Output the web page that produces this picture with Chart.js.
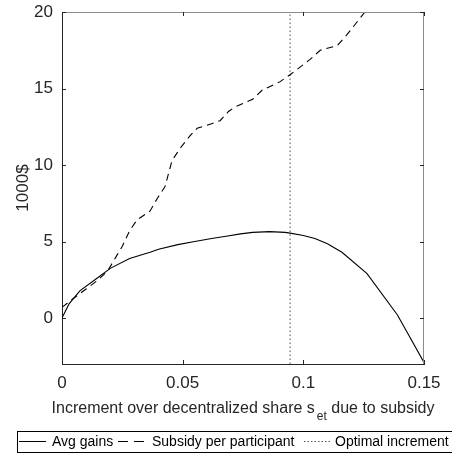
<!DOCTYPE html>
<html>
<head>
<meta charset="utf-8">
<script src="https://cdn.jsdelivr.net/npm/chart.js@4"></script>
<style>
  html, body { margin: 0; padding: 0; background: #fff; }
  #wrap { width: 452px; height: 456px; position: relative; }
</style>
</head>
<body>
<div id="wrap"><canvas id="chart" width="452" height="456"></canvas></div>
<script>
(function () {
  "use strict";

  // series (x = increment, y = 1000$)
  const gainsX = [0, 0.003, 0.0075, 0.0145, 0.02, 0.028, 0.0365, 0.04, 0.048, 0.055, 0.062, 0.068, 0.074, 0.079, 0.086, 0.0925, 0.0945, 0.1, 0.1048, 0.11, 0.116, 0.1264, 0.139, 0.15];
  const gainsY = [0, 0.95, 1.8, 2.6, 3.25, 3.9, 4.3, 4.5, 4.8, 5.0, 5.2, 5.35, 5.5, 5.6, 5.65, 5.6, 5.55, 5.4, 5.2, 4.85, 4.3, 2.9, 0.2, -2.9];

  const subsidyX = [0, 0.004, 0.01, 0.015, 0.019, 0.022, 0.025, 0.028, 0.031, 0.0365, 0.0394, 0.0427, 0.0456, 0.049, 0.053, 0.056, 0.062, 0.0655, 0.069, 0.0717, 0.079, 0.083, 0.0904, 0.0945, 0.1028, 0.107, 0.114, 0.118, 0.1255];
  const subsidyY = [0.7, 1.2, 1.9, 2.5, 3.1, 3.9, 4.7, 5.7, 6.4, 7.0, 7.8, 8.6, 10.3, 11.1, 11.9, 12.4, 12.7, 12.9, 13.5, 13.8, 14.3, 14.9, 15.45, 15.9, 16.9, 17.5, 17.8, 18.5, 20.0];

  const optimalX = [0.0945, 0.0945];
  const optimalY = [-3, 20];

  const xTicks = [0, 0.05, 0.1, 0.15];
  const yTicks = [0, 5, 10, 15, 20];
  const xRange = [0, 0.15];
  const yRange = [-3, 20];

  const seriesLabels = ["Avg gains", "Subsidy per participant", "Optimal increment"];

  const font = "\"Liberation Sans\", Arial, Helvetica, sans-serif";
  const axisColor = "#262626";
  const boxColor = "#8c8c8c";

  const toPoints = (xs, ys) => xs.map((x, i) => ({ x: x, y: ys[i] }));

  // box (top/right), inward tick marks, titles and the boxed legend
  const matlabDecor = {
    id: "matlabDecor",
    afterDraw(chart) {
      const ctx = chart.ctx;
      const a = chart.chartArea;
      const xs = chart.scales.x;
      const ys = chart.scales.y;
      ctx.save();

      ctx.lineWidth = 1;
      ctx.strokeStyle = boxColor;
      ctx.beginPath();
      ctx.moveTo(a.left, a.top + 0.5);
      ctx.lineTo(a.right, a.top + 0.5);
      ctx.moveTo(a.right - 0.5, a.top);
      ctx.lineTo(a.right - 0.5, a.bottom);
      ctx.stroke();

      ctx.strokeStyle = axisColor;
      ctx.beginPath();
      xTicks.forEach(v => {
        const px = Math.round(xs.getPixelForValue(v)) + 0.5;
        ctx.moveTo(px, a.bottom);
        ctx.lineTo(px, a.bottom - 4);
        ctx.moveTo(px, a.top);
        ctx.lineTo(px, a.top + 4);
      });
      yTicks.forEach(v => {
        const py = Math.round(ys.getPixelForValue(v)) + 0.5;
        ctx.moveTo(a.left, py);
        ctx.lineTo(a.left + 4, py);
        ctx.moveTo(a.right, py);
        ctx.lineTo(a.right - 4, py);
      });
      ctx.stroke();

      // y title
      ctx.fillStyle = axisColor;
      ctx.font = "17px " + font;
      ctx.textAlign = "center";
      ctx.textBaseline = "alphabetic";
      ctx.save();
      ctx.translate(28, (a.top + a.bottom) / 2);
      ctx.rotate(-Math.PI / 2);
      ctx.fillText("1000$", 0, 0);
      ctx.restore();

      // x title with subscript
      const mainText = "Increment over decentralized share s";
      const subText = "et";
      const restText = " due to subsidy";
      ctx.textAlign = "left";
      ctx.font = "16px " + font;
      const w1 = ctx.measureText(mainText).width;
      const w3 = ctx.measureText(restText).width;
      ctx.font = "12px " + font;
      const w2 = ctx.measureText(subText).width;
      const total = w1 + 2 + w2 + w3;
      let tx = (a.left + a.right) / 2 - total / 2;
      const base = 413;
      ctx.font = "16px " + font;
      ctx.fillText(mainText, tx, base);
      tx += w1 + 2;
      ctx.font = "12px " + font;
      ctx.fillText(subText, tx, base + 7);
      tx += w2;
      ctx.font = "16px " + font;
      ctx.fillText(restText, tx, base);

      // legend
      const lgTop = 431.5, lgBottom = 452.5, lgLeft = 17.5;
      ctx.strokeStyle = "#000";
      ctx.lineWidth = 1;
      ctx.strokeRect(lgLeft, lgTop, chart.width + 10, lgBottom - lgTop);
      const lineStarts = [19, 118, 304];
      const textStarts = [52, 152, 335];
      const dashes = [[], [10, 6], [1.5, 2]];
      const ly = 441.5;
      ctx.font = "14px " + font;
      ctx.textBaseline = "middle";
      seriesLabels.forEach((label, i) => {
        ctx.strokeStyle = i === 2 ? "#555" : "#000";
        ctx.setLineDash(dashes[i]);
        ctx.beginPath();
        ctx.moveTo(lineStarts[i], ly);
        ctx.lineTo(lineStarts[i] + 27, ly);
        ctx.stroke();
        ctx.setLineDash([]);
        ctx.fillStyle = "#000";
        ctx.fillText(label, textStarts[i], ly + 1);
      });

      ctx.restore();
    }
  };

  new Chart(document.getElementById("chart"), {
    type: "scatter",
    data: {
      datasets: [
        {
          label: seriesLabels[0],
          data: toPoints(gainsX, gainsY),
          showLine: true,
          borderColor: "#000",
          borderWidth: 1.1,
          pointRadius: 0,
          tension: 0
        },
        {
          label: seriesLabels[1],
          data: toPoints(subsidyX, subsidyY),
          showLine: true,
          borderColor: "#000",
          borderWidth: 1.1,
          borderDash: [7, 5],
          pointRadius: 0,
          tension: 0
        },
        {
          label: seriesLabels[2],
          data: toPoints(optimalX, optimalY),
          showLine: true,
          borderColor: "#555",
          borderWidth: 1,
          borderDash: [1.5, 2.5],
          pointRadius: 0
        }
      ]
    },
    options: {
      responsive: false,
      animation: false,
      events: [],
      layout: { padding: { left: 0, top: 12, right: 28, bottom: 0 } },
      plugins: { legend: { display: false }, tooltip: { enabled: false } },
      scales: {
        x: {
          type: "linear",
          min: xRange[0],
          max: xRange[1],
          afterFit: s => { s.height = 92; s.paddingLeft = 0; s.paddingRight = 0; },
          afterBuildTicks: s => { s.ticks = xTicks.map(v => ({ value: v })); },
          grid: { display: false, drawTicks: false },
          border: { display: true, color: axisColor, width: 1 },
          ticks: {
            padding: 9,
            color: axisColor,
            font: { family: font, size: 17 },
            maxRotation: 0,
            callback: v => String(v)
          }
        },
        y: {
          type: "linear",
          min: yRange[0],
          max: yRange[1],
          afterFit: s => { s.width = 62; s.paddingTop = 0; s.paddingBottom = 0; },
          afterBuildTicks: s => { s.ticks = yTicks.map(v => ({ value: v })); },
          grid: { display: false, drawTicks: false },
          border: { display: true, color: axisColor, width: 1 },
          ticks: {
            padding: 9,
            color: axisColor,
            font: { family: font, size: 17 },
            callback: v => String(v)
          }
        }
      }
    },
    plugins: [matlabDecor]
  });
})();
</script>
</body>
</html>
